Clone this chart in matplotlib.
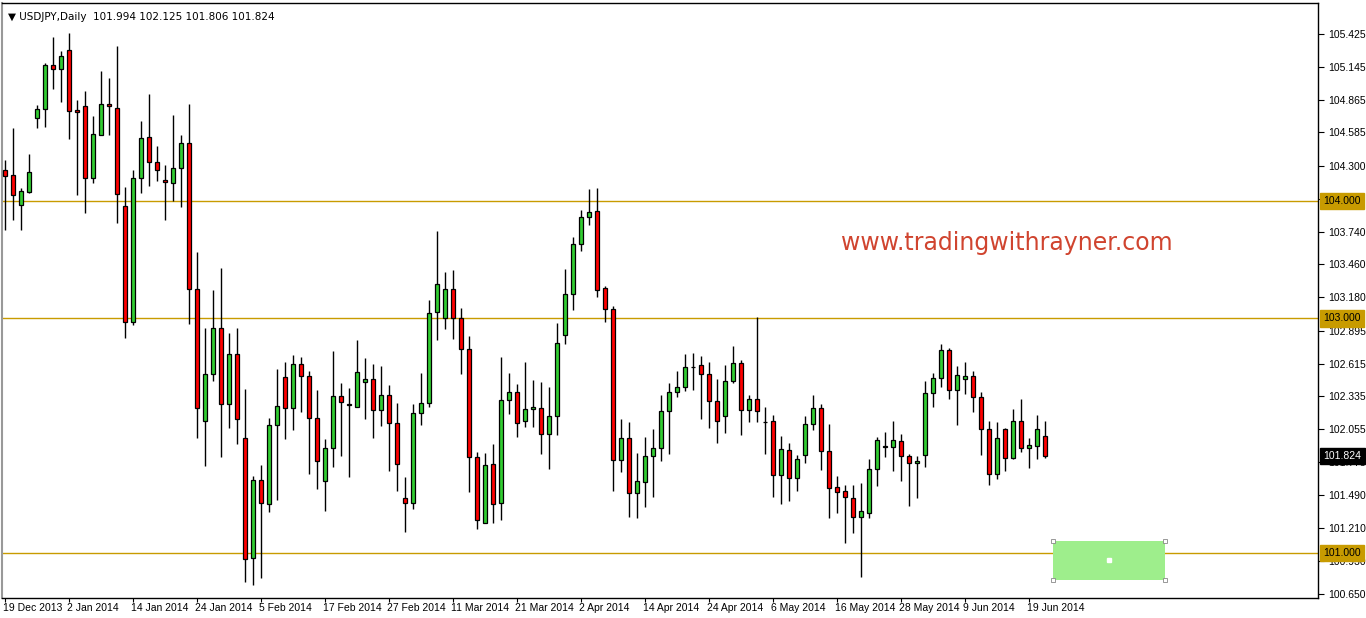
import matplotlib
matplotlib.use('Agg')
import matplotlib.pyplot as plt
import matplotlib.transforms as mtransforms
from matplotlib.patches import Rectangle

# USDJPY daily bars, 19 Dec 2013 .. 23 Jun 2014
opens = [
    104.265, 104.220, 103.965, 104.081, 104.706, 104.783, 105.161, 105.124, 105.286, 104.777,
    104.809, 104.195, 104.561, 104.826, 104.792, 103.956, 102.967, 104.195, 104.544, 104.331,
    104.178, 104.152, 104.280, 104.493, 103.248, 102.123, 102.524, 102.916, 102.268, 102.694,
    101.978, 100.955, 101.620, 101.415, 102.089, 102.498, 102.234, 102.609, 102.506, 102.148,
    101.611, 101.892, 102.336, 102.273, 102.242, 102.455, 102.481, 102.217, 102.344, 102.106,
    101.466, 101.424, 102.191, 102.276, 103.052, 103.001, 103.248, 103.001, 102.737, 101.816,
    101.256, 101.756, 101.424, 102.302, 102.370, 102.123, 102.225, 102.234, 102.012, 102.165,
    102.856, 103.206, 103.632, 103.862, 103.913, 103.257, 103.078, 101.790, 101.978, 101.509,
    101.603, 101.824, 101.892, 102.208, 102.370, 102.413, 102.588, 102.600, 102.524, 102.293,
    102.165, 102.464, 102.617, 102.217, 102.310, 102.119, 102.123, 101.662, 101.876, 101.637,
    101.833, 102.097, 102.234, 101.867, 101.560, 101.526, 101.466, 101.307, 101.341, 101.713,
    101.901, 101.906, 101.955, 101.824, 101.765, 101.833, 102.362, 102.489, 102.728, 102.387,
    102.481, 102.506, 102.327, 102.055, 101.671, 102.055, 101.807, 102.123, 101.892, 101.910,
    101.994]
highs = [
    104.351, 104.624, 104.112, 104.402, 104.817, 105.175, 105.402, 105.280, 105.431, 104.862,
    104.939, 104.726, 105.110, 105.047, 105.323, 104.121, 104.263, 104.683, 104.914, 104.470,
    104.308, 104.734, 104.564, 104.828, 103.566, 102.918, 103.242, 103.430, 102.876, 102.916,
    102.398, 101.656, 101.750, 102.148, 102.569, 102.626, 102.688, 102.671, 102.549, 102.390,
    101.974, 102.722, 102.449, 102.407, 102.816, 102.662, 102.609, 102.594, 102.430, 102.276,
    101.645, 102.268, 102.532, 103.155, 103.745, 103.396, 103.413, 103.089, 102.848, 101.858,
    101.850, 101.929, 102.671, 102.535, 102.441, 102.628, 102.475, 102.458, 102.415, 102.958,
    103.421, 103.692, 103.922, 104.103, 104.112, 103.276, 103.106, 102.140, 102.114, 101.850,
    101.989, 102.055, 102.344, 102.447, 102.549, 102.694, 102.708, 102.677, 102.626, 102.481,
    102.600, 102.762, 102.643, 102.344, 103.010, 102.242, 102.174, 101.995, 101.935, 101.833,
    102.165, 102.344, 102.268, 102.097, 101.654, 101.577, 101.577, 101.594, 101.801, 101.989,
    102.029, 102.125, 102.012, 101.847, 101.827, 102.466, 102.535, 102.782, 102.748, 102.592,
    102.626, 102.549, 102.370, 102.125, 102.117, 102.063, 102.225, 102.310, 101.978, 102.174,
    102.125]
lows = [
    103.754, 103.839, 103.754, 104.072, 104.624, 104.635, 104.956, 104.848, 104.532, 104.055,
    103.896, 104.157, 104.561, 104.567, 103.816, 102.831, 102.944, 104.072, 104.132, 104.174,
    103.842, 104.004, 103.953, 102.955, 101.983, 101.744, 102.469, 101.821, 102.063, 101.932,
    100.755, 100.727, 100.784, 101.349, 101.452, 101.974, 102.051, 102.205, 101.676, 101.548,
    101.360, 101.736, 101.829, 101.650, 102.242, 102.145, 101.983, 102.085, 101.702, 101.531,
    101.181, 101.378, 102.094, 102.247, 102.816, 102.912, 102.827, 102.529, 101.523, 101.202,
    101.256, 101.258, 101.279, 102.188, 101.991, 102.077, 102.077, 101.844, 101.713, 102.009,
    102.779, 103.069, 103.572, 103.794, 103.180, 102.972, 101.531, 101.693, 101.309, 101.301,
    101.395, 101.480, 101.787, 101.847, 102.332, 102.379, 102.392, 102.145, 102.068, 101.940,
    102.026, 102.452, 102.009, 102.114, 102.114, 101.847, 101.473, 101.415, 101.441, 101.526,
    101.765, 102.046, 101.705, 101.296, 101.338, 101.083, 101.168, 100.795, 101.298, 101.574,
    101.821, 101.702, 101.616, 101.403, 101.471, 101.736, 102.247, 102.418, 102.315, 102.094,
    102.358, 102.199, 101.838, 101.582, 101.633, 101.702, 101.799, 101.858, 101.722, 101.799,
    101.806]
closes = [
    104.217, 104.050, 104.084, 104.246, 104.783, 105.161, 105.124, 105.235, 104.766, 104.758,
    104.195, 104.570, 104.826, 104.809, 104.058, 102.967, 104.195, 104.536, 104.331, 104.263,
    104.161, 104.280, 104.493, 103.248, 102.234, 102.524, 102.916, 102.268, 102.694, 102.142,
    100.946, 101.620, 101.424, 102.089, 102.251, 102.234, 102.609, 102.506, 102.148, 101.782,
    101.892, 102.336, 102.285, 102.259, 102.541, 102.481, 102.217, 102.344, 102.106, 101.756,
    101.424, 102.191, 102.276, 103.044, 103.291, 103.248, 103.001, 102.737, 101.816, 101.279,
    101.748, 101.415, 102.302, 102.370, 102.106, 102.225, 102.242, 102.012, 102.165, 102.788,
    103.206, 103.632, 103.862, 103.905, 103.240, 103.078, 101.790, 101.978, 101.509, 101.611,
    101.824, 101.892, 102.208, 102.370, 102.413, 102.583, 102.588, 102.524, 102.293, 102.123,
    102.464, 102.617, 102.217, 102.310, 102.208, 102.119, 101.662, 101.884, 101.637, 101.799,
    102.097, 102.234, 101.867, 101.552, 101.517, 101.475, 101.304, 101.358, 101.713, 101.961,
    101.915, 101.961, 101.824, 101.765, 101.782, 102.362, 102.489, 102.728, 102.387, 102.515,
    102.506, 102.327, 102.055, 101.671, 101.978, 101.807, 102.123, 101.892, 101.918, 102.055,
    101.824]

date_labels = ['19 Dec 2013', '2 Jan 2014', '14 Jan 2014', '24 Jan 2014', '5 Feb 2014',
               '17 Feb 2014', '27 Feb 2014', '11 Mar 2014', '21 Mar 2014', '2 Apr 2014',
               '14 Apr 2014', '24 Apr 2014', '6 May 2014', '16 May 2014', '28 May 2014',
               '9 Jun 2014', '19 Jun 2014']
price_ticks = [100.650, 100.930, 101.210, 101.490, 101.775, 102.055, 102.335, 102.615,
               102.895, 103.180, 103.460, 103.740, 104.020, 104.300, 104.585, 104.865,
               105.145, 105.425]
hidden_ticks = [104.020]   # covered by the 104.000 tag on the original
levels = [104.000, 103.000, 101.000]

# target zone box drawn on the chart (bar index / price)
zone_x0, zone_x1 = 130.96, 144.96
zone_lo, zone_hi = 100.770, 101.102

GOLD = '#C89B00'
BULL = '#32CD32'
BEAR = '#FF0000'


def candles(ax):
    xs = list(range(len(opens)))
    ax.vlines(xs, lows, highs, color='black', linewidth=1.0, zorder=2)
    bottoms = [min(o, c) for o, c in zip(opens, closes)]
    heights = [abs(c - o) for o, c in zip(opens, closes)]
    colors = []
    for o, c in zip(opens, closes):
        if c > o:
            colors.append(BULL)
        elif c < o:
            colors.append(BEAR)
        else:
            colors.append('black')
    ax.bar(xs, heights, bottom=bottoms, width=0.55, color=colors,
           edgecolor='black', linewidth=0.9, zorder=3)


def price_tag(ax, value, fc, tc):
    trans = mtransforms.blended_transform_factory(ax.transAxes, ax.transData)
    ax.text(1.0042, value, '%.3f' % value, transform=trans, ha='left', va='center',
            fontsize=7.5, family='Liberation Sans', color=tc, clip_on=False,
            bbox=dict(boxstyle='square,pad=0.3', fc=fc, ec=fc), zorder=5)


fig = plt.figure(figsize=(13.66, 6.18), dpi=100)
fig.patch.set_facecolor('white')
ax = fig.add_axes([2 / 1366, 20 / 618, 1316 / 1366, 595 / 618])

candles(ax)

ax.set_xlim(-0.41, 164.1)
ax.set_ylim(100.616, 105.689)

# horizontal levels
for lv in levels:
    ax.axhline(lv, color=GOLD, linewidth=1.0, zorder=1)
    price_tag(ax, lv, GOLD, 'black')

# current price tag
price_tag(ax, closes[-1], 'black', 'white')

# zone rectangle with its handles
ax.add_patch(Rectangle((zone_x0, zone_lo), zone_x1 - zone_x0, zone_hi - zone_lo,
                       facecolor='#9EEE8C', edgecolor='none', zorder=1))
ax.plot([zone_x0, zone_x1, zone_x0, zone_x1], [zone_lo, zone_lo, zone_hi, zone_hi], 's',
        ms=3, mfc='white', mec='#888888', mew=0.6, zorder=4)
ax.plot([(zone_x0 + zone_x1) / 2], [(zone_lo + zone_hi) / 2], 's', ms=2.5,
        mfc='white', mec='white', zorder=4)

# watermark
ax.text(0.7637, 0.5966, 'www.tradingwithrayner.com', transform=ax.transAxes,
        ha='center', va='center', fontsize=17, color='#D0442F', family='DejaVu Sans')

# title line
title = '\u25bc USDJPY,Daily  %.3f %.3f %.3f %.3f' % (opens[-1], highs[-1], lows[-1], closes[-1])
ax.text(0.0045, 0.985, title, transform=ax.transAxes, ha='left', va='top',
        fontsize=7.5, family='DejaVu Sans', color='black')

# axes
ax.yaxis.tick_right()
ax.set_yticks(price_ticks)
ax.set_yticklabels(['' if t in hidden_ticks else '%.3f' % t for t in price_ticks],
                   family='Liberation Sans', fontsize=7.5)
ax.set_xticks(list(range(0, len(opens), 8)))
ax.set_xticklabels(date_labels, family='Liberation Sans', fontsize=7.5, ha='left')
ax.tick_params(axis='y', direction='out', length=4, width=0.8, pad=3, colors='black')
ax.tick_params(axis='x', direction='out', length=3, width=0.8, pad=0.5, colors='black')
for lab in ax.get_xticklabels():
    lab.set_transform(lab.get_transform() + mtransforms.ScaledTranslation(-2 / 100, 0, fig.dpi_scale_trans))

for side in ['top', 'right', 'bottom']:
    ax.spines[side].set_color('black')
    ax.spines[side].set_linewidth(1.0)
ax.spines['left'].set_color('#999999')
ax.spines['left'].set_linewidth(1.5)

fig.savefig('out.png', dpi=100, facecolor='white')
